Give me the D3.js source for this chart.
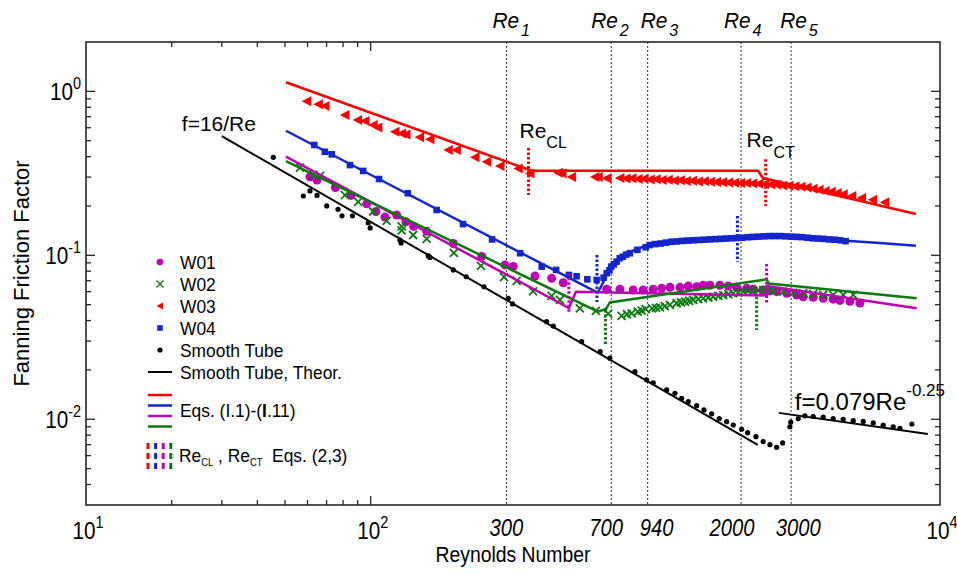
<!DOCTYPE html>
<html>
<head>
<meta charset="utf-8">
<script src="https://cdn.jsdelivr.net/npm/d3@7"></script>
<style>
  body { margin: 0; background: #fff; }
  text { font-family: "Liberation Sans", Arial, sans-serif; fill: #000; }
</style>
</head>
<body>
<div id="chart"></div>
<script>
//////// Fanning friction factor vs Reynolds number ////////

// transition Reynolds numbers (dotted lines)
var reMarks = [300, 700, 940, 2000, 3000];
var reNames = ['1', '2', '3', '4', '5'];

// y ticks
var yMajor = [1, 0.1, 0.01];
var yMinor = [0.004, 0.005, 0.006, 0.007, 0.008, 0.009, 0.02, 0.03, 0.04, 0.05, 0.06, 0.07, 0.08, 0.09,
  0.2, 0.3, 0.4, 0.5, 0.6, 0.7, 0.8, 0.9];
var xMinor = [20, 30, 40, 50, 60, 70, 80, 90];
var xLabels = [{v: 10, e: '1'}, {v: 100, e: '2'}, {v: 10000, e: '4'}];

// measured data [Re, f]
var w01 = [[61.2, 0.301], [64.8, 0.288], [75.2, 0.259], [85.3, 0.232], [96.8, 0.206], [104.4, 0.185],
  [112.2, 0.171], [123.4, 0.176], [133, 0.160], [141.6, 0.150], [157.3, 0.140], [195, 0.118],
  [245.5, 0.0985], [296.3, 0.0874], [316.8, 0.0856], [377.6, 0.0747], [432.3, 0.0724], [474.8, 0.068],
  [675, 0.0621], [751, 0.0621], [836, 0.0614], [906, 0.0614], [983, 0.0621], [1052, 0.0629],
  [1126, 0.0638], [1221, 0.0638], [1305, 0.0649], [1397, 0.0643], [1473, 0.0657], [1554, 0.0657],
  [1686, 0.0657], [1803, 0.0649], [1930, 0.0638], [2093, 0.0629], [2207, 0.0621], [2393, 0.0614],
  [2527, 0.0608], [2668, 0.060], [2892, 0.0587], [3136, 0.0573], [3308, 0.0559], [3586, 0.0555],
  [3888, 0.0547], [4216, 0.054], [4450, 0.0531], [4825, 0.0524], [5232, 0.0512]];

var w02 = [[56.5, 0.343], [62.9, 0.309], [66.4, 0.305], [81.2, 0.233], [90.4, 0.212], [102, 0.185],
  [113.8, 0.162], [128.5, 0.150], [128.5, 0.142], [141, 0.133], [157.3, 0.126], [196, 0.1034],
  [244, 0.0861], [294, 0.0737], [325.7, 0.0698], [372, 0.0603], [432, 0.0565], [462, 0.0534],
  [543, 0.0475], [618, 0.0458], [683, 0.0441], [761, 0.0427], [795, 0.0437], [825, 0.0443],
  [868, 0.0453], [896, 0.046], [925, 0.0469], [974, 0.0475], [1005, 0.0478], [1038, 0.0482],
  [1080, 0.049], [1125, 0.0498], [1188, 0.051], [1230, 0.0516], [1271, 0.0522], [1315, 0.0528],
  [1359, 0.0534], [1415, 0.054], [1473, 0.0546], [1535, 0.0553], [1597, 0.0559], [1665, 0.0566],
  [1732, 0.0572], [1805, 0.058], [1877, 0.0586], [1955, 0.0593], [2036, 0.060], [2120, 0.0604],
  [2207, 0.0608], [2300, 0.061], [2393, 0.0614], [2490, 0.0612], [2595, 0.0608], [2814, 0.060],
  [3050, 0.0592], [3308, 0.0587], [3586, 0.0582], [3888, 0.0576], [4216, 0.0573], [4571, 0.0573],
  [4956, 0.0573]];

var w03 = [[59.6, 0.87], [65.5, 0.834], [69.1, 0.815], [81.2, 0.718], [90, 0.669], [95.5, 0.66],
  [102, 0.623], [106, 0.601], [121.7, 0.567], [128.5, 0.554], [133, 0.546], [148.5, 0.524],
  [161.5, 0.51], [187.3, 0.439], [200, 0.439], [232.5, 0.396], [255.6, 0.372], [284.6, 0.35],
  [330, 0.339], [362.6, 0.316], [456, 0.319], [470, 0.317], [508, 0.30], [613, 0.30], [630, 0.30],
  [675, 0.295], [751, 0.296], [789, 0.294], [828, 0.295], [870, 0.292], [913, 0.293], [959, 0.290],
  [1007, 0.291], [1057, 0.288], [1110, 0.289], [1166, 0.286], [1224, 0.287], [1285, 0.284],
  [1350, 0.285], [1417, 0.282], [1488, 0.283], [1562, 0.281], [1640, 0.280], [1722, 0.279],
  [1808, 0.278], [1899, 0.277], [1994, 0.276], [2094, 0.276], [2198, 0.274], [2308, 0.273],
  [2424, 0.272], [2545, 0.270], [2672, 0.269], [2806, 0.267], [2946, 0.266], [3093, 0.264],
  [3248, 0.262], [3410, 0.259], [3581, 0.255], [3760, 0.251], [3948, 0.247], [4145, 0.244],
  [4352, 0.240], [4570, 0.236], [4900, 0.230], [5300, 0.224], [5800, 0.218], [6400, 0.211]];

var w04 = [[63.4, 0.471], [69, 0.428], [73, 0.413], [84.6, 0.355], [94.1, 0.327], [107, 0.292],
  [135, 0.239], [170.5, 0.189], [211, 0.155], [267, 0.125], [335, 0.103], [399, 0.0853],
  [448, 0.0815], [497, 0.0759], [529, 0.0745], [577, 0.0714], [622, 0.0707], [658, 0.073],
  [675, 0.0778], [690, 0.081], [700, 0.0853], [715, 0.088], [731, 0.0915], [750, 0.096],
  [769, 0.098], [790, 0.101], [814, 0.103], [865, 0.108], [925, 0.112], [955, 0.1155], [998, 0.117],
  [1043, 0.118], [1090, 0.1195], [1139, 0.121], [1190, 0.1215], [1244, 0.1225], [1300, 0.123],
  [1358, 0.1235], [1419, 0.124], [1483, 0.1245], [1550, 0.125], [1620, 0.1255], [1693, 0.126],
  [1769, 0.1265], [1849, 0.127], [1932, 0.1275], [2019, 0.128], [2110, 0.129], [2205, 0.1295],
  [2304, 0.130], [2408, 0.1305], [2516, 0.131], [2629, 0.131], [2748, 0.131], [2871, 0.1305],
  [3000, 0.130], [3135, 0.1295], [3277, 0.129], [3424, 0.128], [3578, 0.127], [3739, 0.1265],
  [3907, 0.126], [4083, 0.125], [4267, 0.1245], [4459, 0.1235], [4660, 0.122]];

var smooth = [[45.5, 0.396], [58, 0.230], [61.2, 0.247], [64.8, 0.232], [70.1, 0.200], [76.8, 0.191],
  [79.3, 0.174], [86.3, 0.174], [98, 0.158], [99.6, 0.147], [126.7, 0.124], [127.9, 0.119],
  [159.4, 0.0992], [161.5, 0.0971], [195, 0.0815], [216.7, 0.074], [250, 0.0643], [304.3, 0.0547],
  [315, 0.0505], [415, 0.0394], [438, 0.037], [551, 0.0298], [640, 0.0259], [692, 0.0236],
  [848, 0.0195], [931, 0.0174], [983, 0.0167], [1096, 0.0151], [1172, 0.0144], [1237, 0.0134],
  [1305, 0.0128], [1397, 0.0121], [1482, 0.0114], [1577, 0.0108], [1677, 0.0101], [1780, 0.00967],
  [1878, 0.00923], [2010, 0.00869], [2110, 0.00828], [2256, 0.00783], [2393, 0.00732], [2527, 0.0070],
  [2668, 0.00675], [2800, 0.00717], [2970, 0.0090], [2990, 0.0096], [3177, 0.0101], [3354, 0.0105],
  [3586, 0.0104], [3888, 0.0103], [4216, 0.0101], [4571, 0.0100], [4956, 0.0098], [5375, 0.0097],
  [5827, 0.0095], [6317, 0.0092], [6849, 0.0090], [7231, 0.0088], [7967, 0.00936]];

// theory lines
var lamTheory = [[30, 0.533], [2290, 0.00699]];
var turbTheory = [[2716, 0.01094], [9060, 0.00812]];

// model lines, Eqs. (I.1)-(I.11)
var redModel = [[50.4, 1.136], [367.8, 0.328], [2293, 0.328], [2388, 0.296], [8230, 0.1786]];
var blueModel = [[50.4, 0.575], [626.6, 0.0592], [644, 0.0641], [671, 0.0748], [704, 0.0885],
  [751, 0.0977], [828, 0.1062], [919, 0.114], [1081, 0.1206], [1435, 0.124], [1904, 0.1275],
  [2466, 0.1293], [3220, 0.1275], [4274, 0.124], [6151, 0.1189], [8230, 0.1144]];
var magModel = [[50.4, 0.3994], [497, 0.0477], [526, 0.060], [2466, 0.0569], [2466, 0.065], [8276, 0.0475]];
var greenModel = [[50.4, 0.376], [628.6, 0.0453], [671, 0.0471], [692.6, 0.0516], [2460, 0.0714],
  [2506, 0.0673], [8276, 0.0547]];

// Re_CL / Re_CT markers, Eqs. (2,3): [Re, f top, f bottom]
var redCrit = [[358.4, 0.451, 0.2333], [2440, 0.385, 0.1999]];
var blueCrit = [[623.6, 0.1005, 0.0519], [1943, 0.1737, 0.0914]];
var magCrit = [[497, 0.0777, 0.0443], [2460, 0.0885, 0.051]];
var greenCrit = [[667.8, 0.0464, 0.0284], [2269, 0.0559, 0.035]];

//colors
var cRed = '#ff0000', cBlue = '#1226cc', cMag = '#c000b4', cGreen = '#0b7a0f';

// label nudges (px) for the Re marks, bottom and top
var bottomNudge = [0, -5, 9, -9, 7];
var topNudge = [-14, -20, -7, -17, -11];

// margins
var margin = {top: 42, right: 17, bottom: 74, left: 86};
var width = 957 - margin.left - margin.right;
var height = 579 - margin.top - margin.bottom;

var x = d3.scaleLog().domain([10, 10000]).range([0, width]);
var y = d3.scaleLog().domain([0.003, 2]).range([height, 0]);

var svg = d3.select('#chart').append('svg')
  .attr('width', 957)
  .attr('height', 579);

var g = svg.append('g')
  .attr('transform', 'translate(' + margin.left + ',' + margin.top + ')');

// narrow the glyphs a little, like the stretched original
function squeeze(sel, sx) {
  sel.each(function() {
    var t = d3.select(this);
    t.attr('transform', 'translate(' + t.attr('x') + ',' + t.attr('y') + ') scale(' + sx + ',1)')
      .attr('x', 0).attr('y', 0);
  });
}

// dotted Re lines
g.selectAll('.reLine')
  .data(reMarks)
  .enter().append('line')
  .attr('x1', function(d) { return x(d); })
  .attr('x2', function(d) { return x(d); })
  .attr('y1', 0)
  .attr('y2', height)
  .attr('stroke', '#333')
  .attr('stroke-width', 1)
  .attr('stroke-dasharray', '2,2');

var line = d3.line()
  .x(function(d) { return x(d[0]); })
  .y(function(d) { return y(d[1]); });

// markers
g.selectAll('.w01')
  .data(w01)
  .enter().append('circle')
  .attr('cx', function(d) { return x(d[0]); })
  .attr('cy', function(d) { return y(d[1]); })
  .attr('r', 4.5)
  .attr('fill', cMag);

g.selectAll('.w02')
  .data(w02)
  .enter().append('path')
  .attr('transform', function(d) { return 'translate(' + x(d[0]) + ',' + y(d[1]) + ')'; })
  .attr('d', 'M-4,-4L4,4M-4,4L4,-4')
  .attr('stroke', cGreen)
  .attr('stroke-width', 1.8)
  .attr('fill', 'none');

g.selectAll('.w03')
  .data(w03)
  .enter().append('path')
  .attr('transform', function(d) { return 'translate(' + x(d[0]) + ',' + y(d[1]) + ')'; })
  .attr('d', 'M-5,0L4.5,-5L4.5,5Z')
  .attr('fill', cRed);

g.selectAll('.w04')
  .data(w04)
  .enter().append('rect')
  .attr('x', function(d) { return x(d[0]) - 3.3; })
  .attr('y', function(d) { return y(d[1]) - 3.3; })
  .attr('width', 6.6)
  .attr('height', 6.6)
  .attr('fill', cBlue);

g.selectAll('.smooth')
  .data(smooth)
  .enter().append('circle')
  .attr('cx', function(d) { return x(d[0]); })
  .attr('cy', function(d) { return y(d[1]); })
  .attr('r', 2.6)
  .attr('fill', '#000');

// theory lines
[lamTheory, turbTheory].forEach(function(d) {
  g.append('path').datum(d)
    .attr('d', line)
    .attr('fill', 'none')
    .attr('stroke', '#000')
    .attr('stroke-width', 2);
});

// model lines
[[redModel, cRed], [blueModel, cBlue], [magModel, cMag], [greenModel, cGreen]].forEach(function(m) {
  g.append('path').datum(m[0])
    .attr('d', line)
    .attr('fill', 'none')
    .attr('stroke', m[1])
    .attr('stroke-width', 2.5);
});

// critical Re markers
[[redCrit, cRed], [blueCrit, cBlue], [magCrit, cMag], [greenCrit, cGreen]].forEach(function(m) {
  g.selectAll(null)
    .data(m[0])
    .enter().append('line')
    .attr('x1', function(d) { return x(d[0]); })
    .attr('x2', function(d) { return x(d[0]); })
    .attr('y1', function(d) { return y(d[1]); })
    .attr('y2', function(d) { return y(d[2]); })
    .attr('stroke', m[1])
    .attr('stroke-width', 3)
    .attr('stroke-dasharray', '2.5,2');
});

// frame
g.append('rect')
  .attr('width', width)
  .attr('height', height)
  .attr('fill', 'none')
  .attr('stroke', '#262626')
  .attr('stroke-width', 1.6);

// ticks (inward)
function xTicks(vals, len) {
  g.selectAll(null).data(vals).enter().append('line')
    .attr('x1', function(d) { return x(d); }).attr('x2', function(d) { return x(d); })
    .attr('y1', height).attr('y2', height - len)
    .attr('stroke', '#262626').attr('stroke-width', 1.3);
  g.selectAll(null).data(vals).enter().append('line')
    .attr('x1', function(d) { return x(d); }).attr('x2', function(d) { return x(d); })
    .attr('y1', 0).attr('y2', len)
    .attr('stroke', '#262626').attr('stroke-width', 1.3);
}
function yTicks(vals, len) {
  g.selectAll(null).data(vals).enter().append('line')
    .attr('y1', function(d) { return y(d); }).attr('y2', function(d) { return y(d); })
    .attr('x1', 0).attr('x2', len)
    .attr('stroke', '#262626').attr('stroke-width', 1.3);
  g.selectAll(null).data(vals).enter().append('line')
    .attr('y1', function(d) { return y(d); }).attr('y2', function(d) { return y(d); })
    .attr('x1', width).attr('x2', width - len)
    .attr('stroke', '#262626').attr('stroke-width', 1.3);
}
xTicks(xMinor, 5);
xTicks([100], 9);
yTicks(yMinor, 5);
yTicks(yMajor, 9);

// y tick labels
var yl = g.selectAll('.ylab')
  .data(yMajor)
  .enter().append('text')
  .attr('x', -5)
  .attr('y', function(d) { return y(d) + 9; })
  .attr('text-anchor', 'end')
  .attr('font-size', 23);
yl.append('tspan').text('10');
yl.append('tspan')
  .attr('dy', -11)
  .attr('font-size', 16)
  .text(function(d) { return Math.round(Math.log10(d)); });
squeeze(yl, 0.9);

// x tick labels
var xl = g.selectAll('.xlab')
  .data(xLabels)
  .enter().append('text')
  .attr('x', function(d) { return x(d.v) + 2; })
  .attr('y', height + 34)
  .attr('text-anchor', 'middle')
  .attr('font-size', 23);
xl.append('tspan').text('10');
xl.append('tspan')
  .attr('dy', -11)
  .attr('font-size', 16)
  .text(function(d) { return d.e; });
squeeze(xl, 0.9);

var rb = g.selectAll('.reLab')
  .data(reMarks)
  .enter().append('text')
  .attr('x', function(d, i) { return x(d) + bottomNudge[i]; })
  .attr('y', height + 31)
  .attr('text-anchor', 'middle')
  .attr('font-size', 23)
  .attr('font-style', 'italic')
  .text(function(d) { return d; });
squeeze(rb, 0.88);

// top Re labels
var rt = g.selectAll('.reTop')
  .data(reMarks)
  .enter().append('text')
  .attr('x', function(d, i) { return x(d) + topNudge[i]; })
  .attr('y', -14)
  .attr('font-size', 22)
  .attr('font-style', 'italic');
rt.append('tspan').text('Re');
rt.append('tspan')
  .attr('dy', 8)
  .attr('font-size', 17)
  .attr('dx', 2)
  .text(function(d, i) { return reNames[i]; });
squeeze(rt, 0.95);

// axis titles
svg.append('text')
  .attr('transform', 'translate(29,' + (margin.top + height / 2) + ') rotate(-90)')
  .attr('text-anchor', 'middle')
  .attr('font-size', 22)
  .text('Fanning Friction Factor');

var xt = svg.append('text')
  .attr('x', margin.left + width / 2)
  .attr('y', 562)
  .attr('text-anchor', 'middle')
  .attr('font-size', 22)
  .text('Reynolds Number');
squeeze(xt, 0.88);

// annotations
g.append('text')
  .attr('x', x(lamTheory[0][0]) - 40)
  .attr('y', y(lamTheory[0][1]) - 5)
  .attr('font-size', 21)
  .text('f=16/Re');

var tt = g.append('text')
  .attr('x', x(turbTheory[0][0]) + 16)
  .attr('y', y(turbTheory[0][1]) - 3)
  .attr('font-size', 24);
tt.append('tspan').text('f=0.079Re');
tt.append('tspan').attr('dy', -14).attr('font-size', 17).text('-0.25');

var cl = g.append('text')
  .attr('x', x(redCrit[0][0]) - 9)
  .attr('y', y(redCrit[0][1]) - 10)
  .attr('font-size', 21);
cl.append('tspan').text('Re');
cl.append('tspan').attr('dy', 10).attr('font-size', 16).text('CL');

var ct = g.append('text')
  .attr('x', x(redCrit[1][0]) - 19)
  .attr('y', y(redCrit[1][1]) - 12)
  .attr('font-size', 21);
ct.append('tspan').text('Re');
ct.append('tspan').attr('dy', 11).attr('font-size', 16).text('CT');

// legend
var legend = svg.append('g').attr('font-size', 18.5);
var lx = 160, ly = 262, step = 22;

legend.append('circle').attr('cx', lx).attr('cy', ly).attr('r', 3.3).attr('fill', cMag);
legend.append('path').attr('transform', 'translate(' + lx + ',' + (ly + step) + ')')
  .attr('d', 'M-3.5,-3.5L3.5,3.5M-3.5,3.5L3.5,-3.5').attr('stroke', cGreen).attr('stroke-width', 1.3);
legend.append('path').attr('transform', 'translate(' + lx + ',' + (ly + 2 * step) + ')')
  .attr('d', 'M-3.5,0L3,-3.5L3,3.5Z').attr('fill', cRed);
legend.append('rect').attr('x', lx - 2.8).attr('y', ly + 3 * step - 2.8).attr('width', 5.6).attr('height', 5.6).attr('fill', cBlue);
legend.append('circle').attr('cx', lx).attr('cy', ly + 4 * step).attr('r', 2.6).attr('fill', '#000');
legend.append('line').attr('x1', lx - 12).attr('x2', lx + 12).attr('y1', ly + 5 * step).attr('y2', ly + 5 * step)
  .attr('stroke', '#000').attr('stroke-width', 2);

var names = ['W01', 'W02', 'W03', 'W04', 'Smooth Tube', 'Smooth Tube, Theor.'];
var ln = legend.selectAll('.lname')
  .data(names)
  .enter().append('text')
  .attr('x', lx + 20)
  .attr('y', function(d, i) { return ly + i * step + 6.5; })
  .text(function(d) { return d; });
squeeze(ln, 0.94);

var eqColors = [cRed, cBlue, cMag, cGreen];
legend.selectAll('.eqline')
  .data(eqColors)
  .enter().append('line')
  .attr('x1', lx - 12).attr('x2', lx + 12)
  .attr('y1', function(d, i) { return 395 + i * 10.5; })
  .attr('y2', function(d, i) { return 395 + i * 10.5; })
  .attr('stroke', function(d) { return d; })
  .attr('stroke-width', 2.5);

var eq = legend.append('text').attr('x', lx + 20).attr('y', 417);
eq.append('tspan').text('Eqs. (I.1)-(');
eq.append('tspan').attr('font-weight', 'bold').text('I');
eq.append('tspan').text('.11)');
squeeze(eq, 0.94);

legend.selectAll('.eqmark')
  .data(eqColors)
  .enter().append('line')
  .attr('x1', function(d, i) { return lx - 12 + i * 7.6; })
  .attr('x2', function(d, i) { return lx - 12 + i * 7.6; })
  .attr('y1', 443)
  .attr('y2', 470)
  .attr('stroke', function(d) { return d; })
  .attr('stroke-width', 3)
  .attr('stroke-dasharray', '6,4');

var rc = legend.append('text').attr('x', lx + 19).attr('y', 462);
rc.append('tspan').text('Re');
rc.append('tspan').attr('dy', 4).attr('font-size', 10).text('CL');
rc.append('tspan').attr('dy', -4).text(' , Re');
rc.append('tspan').attr('dy', 4).attr('font-size', 10).text('CT');
rc.append('tspan').attr('dy', -4).text('\u00a0 Eqs. (2,3)');
squeeze(rc, 0.94);
</script>
</body>
</html>
